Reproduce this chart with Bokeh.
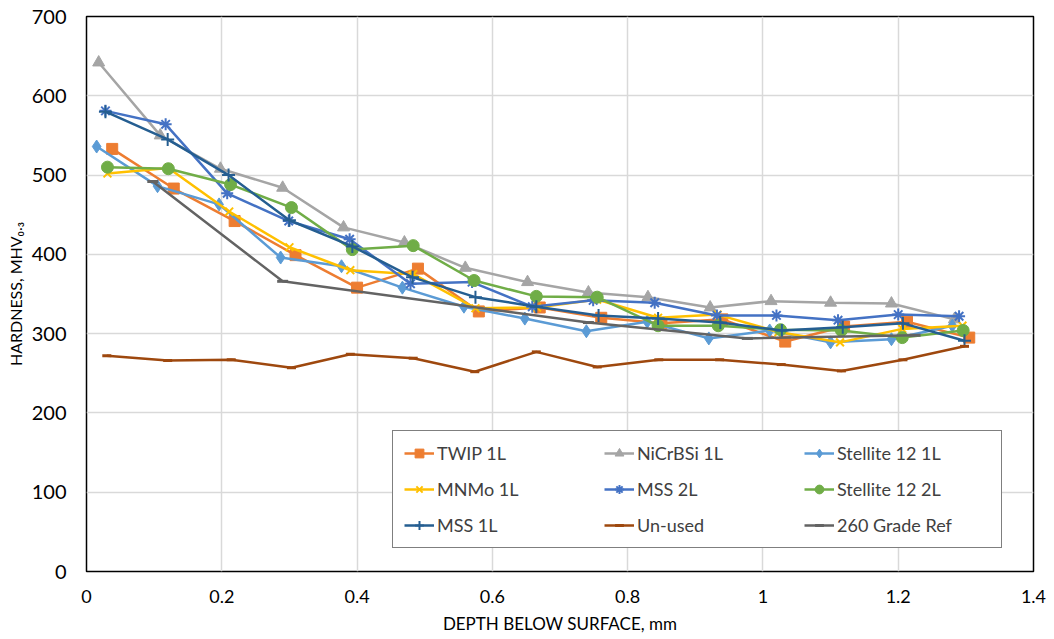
from bokeh.plotting import figure
from bokeh.models import Range1d, FixedTicker, CustomJSTickFormatter, Legend
from bokeh.embed import file_html
from bokeh.resources import INLINE

# ---- data ----
twip_x = [0.038, 0.129, 0.219, 0.309, 0.40, 0.49, 0.58, 0.67, 0.761, 0.85, 0.94, 1.033, 1.12, 1.213, 1.305]
twip_y = [533, 483, 442, 399, 358, 382, 328, 333, 320, 313, 318, 290, 309, 315, 295]

nicr_x = [0.018, 0.109, 0.198, 0.29, 0.38, 0.47, 0.56, 0.652, 0.742, 0.83, 0.922, 1.012, 1.10, 1.19, 1.283]
nicr_y = [642, 550, 508, 484, 434, 415, 383, 365, 352, 346, 333, 341, 339, 338, 318]

st1_x = [0.015, 0.105, 0.196, 0.287, 0.377, 0.467, 0.558, 0.648, 0.739, 0.829, 0.92, 1.01, 1.10, 1.19, 1.28]
st1_y = [536, 486, 463, 396, 385, 358, 334, 319, 303, 315, 294, 304, 289, 293, 310]

mnmo_x = [0.031, 0.121, 0.211, 0.30, 0.39, 0.483, 0.575, 0.666, 0.755, 0.845, 0.933, 1.023, 1.114, 1.206, 1.295]
mnmo_y = [502, 509, 454, 409, 380, 375, 332, 333, 343, 320, 324, 302, 289, 306, 310]

mss2_x = [0.028, 0.117, 0.208, 0.299, 0.389, 0.479, 0.570, 0.659, 0.749, 0.840, 0.932, 1.02, 1.111, 1.2, 1.29]
mss2_y = [581, 564, 477, 442, 419, 363, 365, 334, 342, 339, 323, 323, 317, 324, 322]

st2_x = [0.031, 0.121, 0.213, 0.303, 0.393, 0.483, 0.573, 0.665, 0.755, 0.845, 0.934, 1.026, 1.116, 1.206, 1.296]
st2_y = [510, 508, 488, 459, 406, 411, 367, 347, 346, 310, 310, 305, 304, 295, 304]

mss1_x = [0.028, 0.12, 0.21, 0.30, 0.393, 0.482, 0.575, 0.665, 0.757, 0.845, 0.937, 1.028, 1.118, 1.207, 1.298]
mss1_y = [580, 545, 500, 443, 410, 371, 346, 334, 323, 319, 314, 304, 308, 313, 291]

unused_x = [0.03, 0.12, 0.214, 0.303, 0.39, 0.483, 0.574, 0.665, 0.755, 0.846, 0.936, 1.027, 1.116, 1.207, 1.298]
unused_y = [272, 266, 267, 257, 274, 269, 252, 277, 258, 267, 267, 261, 253, 267, 284]

ref_x = [0.098, 0.29, 0.742, 0.977, 1.225]
ref_y = [492, 366, 314, 294, 298]

x_ticks = [0, 0.2, 0.4, 0.6, 0.8, 1.0, 1.2, 1.4]
y_ticks = [0, 100, 200, 300, 400, 500, 600, 700]

series = [
    ("TWIP 1L", twip_x, twip_y, "#ED7D31", "square", 11),
    ("NiCrBSi 1L", nicr_x, nicr_y, "#A5A5A5", "triangle", 12),
    ("Stellite 12 1L", st1_x, st1_y, "#5B9BD5", "diamond", 13),
    ("MNMo 1L", mnmo_x, mnmo_y, "#FFC000", "x", 11),
    ("MSS 2L", mss2_x, mss2_y, "#4472C4", "asterisk", 12),
    ("Stellite 12 2L", st2_x, st2_y, "#70AD47", "circle", 12),
    ("MSS 1L", mss1_x, mss1_y, "#255E91", "cross", 13),
    ("Un-used", unused_x, unused_y, "#9E480E", "dash", 9),
    ("260 Grade Ref", ref_x, ref_y, "#636363", "dash", 11),
]

FONT = "Lato"

p = figure(width=1054, height=639, output_backend="svg", toolbar_location=None,
           x_range=Range1d(0, 1.4), y_range=Range1d(0, 700),
           min_border_left=86, min_border_right=21, min_border_top=16, min_border_bottom=68,
           background_fill_color="white", border_fill_color="white")

p.outline_line_color = "black"
p.outline_line_width = 1.5

p.xaxis.ticker = FixedTicker(ticks=x_ticks)
p.yaxis.ticker = FixedTicker(ticks=y_ticks)
p.xaxis.formatter = CustomJSTickFormatter(code="return Number(tick.toFixed(1)).toString();")

for ax in (p.xaxis, p.yaxis):
    ax.axis_line_color = None
    ax.major_tick_line_color = None
    ax.minor_tick_line_color = None
    ax.major_tick_out = 0
    ax.major_tick_in = 0
    ax.major_label_text_font = FONT
    ax.major_label_text_color = "#000000"
    ax.axis_label_text_font = FONT
    ax.axis_label_text_font_style = "normal"
    ax.axis_label_text_color = "#000000"

p.xaxis.major_label_text_font_size = "18px"
p.yaxis.major_label_text_font_size = "20px"
p.xaxis.major_label_standoff = 18
p.yaxis.major_label_standoff = 20
p.xaxis.axis_label = "DEPTH BELOW SURFACE, mm"
p.yaxis.axis_label = "HARDNESS, MHV₀.₃"
p.xaxis.axis_label_text_font_size = "17px"
p.yaxis.axis_label_text_font_size = "16px"
p.xaxis.axis_label_standoff = 7
p.yaxis.axis_label_standoff = 4

p.xgrid.grid_line_color = "#D9D9D9"
p.ygrid.grid_line_color = "#D9D9D9"
p.xgrid.grid_line_width = 1.5
p.ygrid.grid_line_width = 1.5

items = []
for name, xs, ys, color, marker, size in series:
    r1 = p.line(xs, ys, line_color=color, line_width=2.5)
    if marker in ("x", "asterisk", "cross", "dash"):
        r2 = p.scatter(xs, ys, marker=marker, size=size, line_color=color, line_width=2 if marker != "dash" else 3)
    else:
        r2 = p.scatter(xs, ys, marker=marker, size=size, fill_color=color, line_color=color)
    items.append((name, [r1, r2]))

legend = Legend(items=items, location=(306, 23), orientation="horizontal", ncols=3,
                label_text_font=FONT, label_text_font_size="18px", label_text_color="#404040",
                glyph_width=30, glyph_height=22, label_height=22, label_width=153,
                label_standoff=3, spacing=14, padding=11,
                border_line_color="black", border_line_width=1,
                background_fill_color="white", background_fill_alpha=1.0)
p.add_layout(legend, "center")

open("out.html", "w").write(file_html(p, INLINE))
